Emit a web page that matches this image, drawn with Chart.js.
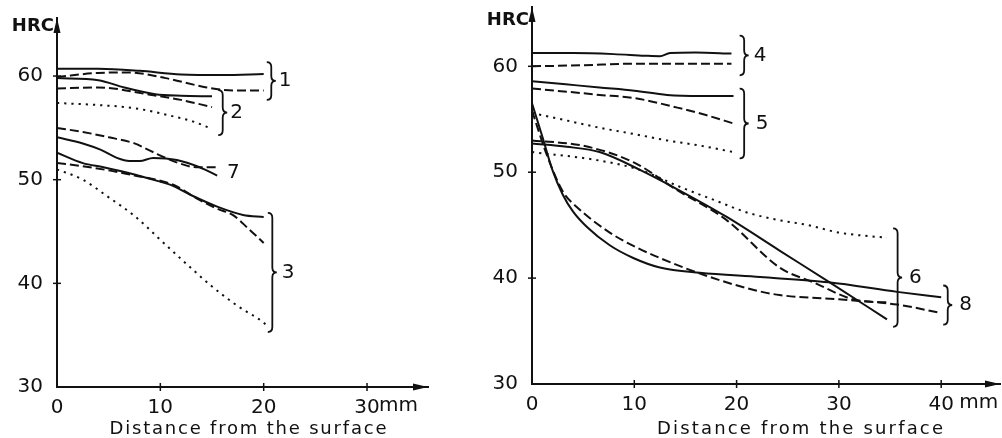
<!DOCTYPE html>
<html lang="en">
<head>
<meta charset="UTF-8">
<title>HRC vs distance from the surface</title>
<script src="https://cdn.jsdelivr.net/npm/chart.js@4"></script>
<style>
  body { margin: 0; background: #fff; }
  canvas { position: absolute; top: 0; }
  #left { left: 0; }
  #right { left: 480px; }
</style>
</head>
<body>
<canvas id="left" width="480" height="438"></canvas>
<canvas id="right" width="522" height="438"></canvas>
<script>
// ---- left plot: [distance mm, HRC] ----
const c1Solid  = [[0,60.7],[4,60.7],[8,60.5],[12,60.15],[16,60.1],[20,60.2]];
const c1Dashed = [[0,59.9],[4,60.3],[7,60.35],[10.5,59.8],[14.5,58.9],[17,58.6],[20,58.6]];
const c2Solid  = [[0,59.8],[4,59.6],[6.5,58.9],[9.5,58.25],[12,58.1],[15,58.05]];
const c2Dashed = [[0,58.8],[4,58.9],[9,58.2],[12,57.7],[15,57.0]];
const c2Dotted = [[0,57.4],[4,57.2],[7.5,56.9],[11.3,56.1],[13.2,55.6],[15,54.9]];
const c7Dashed = [[0,55.0],[2.5,54.6],[5,54.1],[7.5,53.5],[9,52.8],[11.5,51.7],[13.5,51.2],[15.5,51.2]];
const c7Solid  = [[0,54.1],[2.5,53.5],[4.2,52.9],[5.8,52.1],[7,51.8],[8,51.8],[9.3,52.1],[11.6,51.9],[13.8,51.2],[15.5,50.4]];
const c3Solid  = [[0,52.6],[2.5,51.6],[4.5,51.2],[7.5,50.5],[10,49.8],[11,49.5],[13,48.5],[15.5,47.4],[18,46.6],[20,46.4]];
const c3Dashed = [[0,51.6],[2.5,51.3],[5,50.9],[7.5,50.4],[10,49.9],[11.5,49.4],[13.5,48.2],[15.5,47.2],[17,46.6],[18.5,45.3],[20,43.9]];
const c3Dotted = [[0,51.0],[2.5,50.0],[5,48.3],[7.5,46.5],[10,44.2],[12.5,41.9],[15,39.7],[17.5,37.8],[20,36.2],[20.5,35.7]];

// ---- right plot ----
const c4Solid  = [[0,61.25],[4,61.25],[8,61.15],[11,61.0],[12.5,60.95],[13.5,61.25],[16,61.3],[19.5,61.2]];
const c4Dashed = [[0,60.0],[5,60.1],[10,60.25],[15,60.25],[19.5,60.25]];
const c5Solid  = [[0,58.6],[3.3,58.3],[6.6,58.0],[10,57.7],[13.2,57.3],[16.5,57.2],[19.7,57.2]];
const c5Dashed = [[0,57.9],[3.4,57.6],[6.6,57.3],[10,57.0],[14.2,56.1],[17,55.4],[19.7,54.6]];
const c5Dotted = [[0,55.6],[3.3,54.9],[6.6,54.2],[10,53.6],[13.2,53.0],[16.5,52.5],[19.7,51.9]];
const c6Solid  = [[0,52.7],[3.4,52.4],[6.6,51.9],[10.6,50.2],[13.8,48.6],[19,45.8],[24.2,42.6],[29.1,39.6],[34.7,36.1]];
const c6Dashed = [[0,53.0],[5,52.5],[10,50.9],[14.2,48.3],[19,45.5],[24.2,41.0],[27.5,39.6],[31.8,37.9],[35,37.7]];
const c6Dotted = [[0,51.9],[6.6,51.1],[10.6,50.2],[14.5,48.6],[18,47.3],[21,46.2],[24,45.5],[27,45.0],[30,44.3],[34.7,43.8]];
const c8Solid  = [[0,56.5],[1,53.4],[2,50.2],[3,47.9],[4,46.3],[5.4,44.8],[7.6,43.1],[9.9,41.9],[12.5,41.0],[16.4,40.5],[22.3,40.1],[29,39.6],[35.7,38.7],[40,38.2]];
const c8Dashed = [[0,55.8],[1.5,51.5],[3,48.2],[4.4,46.7],[7.6,44.3],[10,43.0],[12.5,41.9],[17.1,40.2],[21.6,38.9],[24.2,38.4],[30,38.0],[35.7,37.5],[40,36.7]];

const yLabels = [30, 40, 50, 60];
const xLabels = [0, 10, 20, 30, 40];

const DASH = [9, 4];
const DOT = [2.2, 5];
const pts = a => a.map(([x, y]) => ({ x, y }));
function line(data, dash) {
  return {
    data: pts(data), borderColor: '#111', borderWidth: 2, borderDash: dash || [],
    pointRadius: 0, tension: 0.4, cubicInterpolationMode: 'monotone', fill: false
  };
}

const FONT = 'DejaVu Sans';
Chart.defaults.font.family = FONT;
Chart.defaults.color = '#111';

function brace(ctx, x0, top, bot, mid) {
  const w = 9, h = w / 2;
  ctx.beginPath();
  ctx.moveTo(x0, top);
  ctx.quadraticCurveTo(x0 + h, top, x0 + h, top + 5);
  ctx.lineTo(x0 + h, mid - 5);
  ctx.quadraticCurveTo(x0 + h, mid, x0 + w, mid);
  ctx.quadraticCurveTo(x0 + h, mid, x0 + h, mid + 5);
  ctx.lineTo(x0 + h, bot - 5);
  ctx.quadraticCurveTo(x0 + h, bot, x0, bot);
  ctx.stroke();
}

function decor(o) {
  return {
    id: 'decor',
    afterDraw(chart) {
      const { ctx, chartArea: a, scales: { x, y } } = chart;
      ctx.save();
      ctx.strokeStyle = '#111';
      ctx.fillStyle = '#111';
      ctx.lineWidth = 1.5;
      // tick crosses
      x.ticks.forEach(t => {
        if (t.value <= 0 || t.value > x.max - 3) return;
        const px = x.getPixelForValue(t.value);
        ctx.beginPath(); ctx.moveTo(px, a.bottom - 4); ctx.lineTo(px, a.bottom + 4); ctx.stroke();
      });
      y.ticks.forEach(t => {
        if (t.value <= y.min || t.value > y.max - 3) return;
        const py = y.getPixelForValue(t.value);
        ctx.beginPath(); ctx.moveTo(a.left - 4, py); ctx.lineTo(a.left + 4, py); ctx.stroke();
      });
      // arrow heads
      ctx.beginPath();
      ctx.moveTo(a.right, a.bottom); ctx.lineTo(a.right - 15, a.bottom - 3.5); ctx.lineTo(a.right - 15, a.bottom + 3.5);
      ctx.closePath(); ctx.fill();
      ctx.beginPath();
      ctx.moveTo(a.left, a.top); ctx.lineTo(a.left - 3.5, a.top + 15); ctx.lineTo(a.left + 3.5, a.top + 15);
      ctx.closePath(); ctx.fill();
      // braces and group labels
      ctx.lineWidth = 1.8;
      ctx.font = '20px ' + FONT;
      ctx.textBaseline = 'middle';
      ctx.textAlign = 'left';
      o.braces.forEach(b => {
        const x0 = x.getPixelForValue(b.x);
        const top = y.getPixelForValue(b.top), bot = y.getPixelForValue(b.bot);
        const mid = (top + bot) / 2;
        brace(ctx, x0, top, bot, mid);
        ctx.fillText(b.text, x0 + 9 + b.gap, mid);
      });
      o.notes.forEach(n => ctx.fillText(n.text, x.getPixelForValue(n.x), y.getPixelForValue(n.y)));
      // HRC
      ctx.font = 'bold 18px ' + FONT;
      ctx.textAlign = 'right';
      ctx.fillText('HRC', a.left - 3, a.top + o.hrcDy);
      // unit after last labelled tick
      ctx.font = '20px ' + FONT;
      ctx.textAlign = 'left';
      ctx.fillText('mm', x.getPixelForValue(o.unitAt) + o.unitDx, a.bottom + 19);
      // axis title, letter spaced to the reference width
      ctx.font = '18px ' + FONT;
      const txt = 'Distance from the surface';
      ctx.letterSpacing = '0px';
      const w0 = ctx.measureText(txt).width;
      ctx.letterSpacing = ((o.titleW - w0) / (txt.length - 1)) + 'px';
      ctx.textAlign = 'left';
      ctx.fillText(txt, o.titleX - o.titleW / 2, 429);
      ctx.restore();
    }
  };
}

function makeChart(id, datasets, s) {
  return new Chart(document.getElementById(id), {
    type: 'line',
    data: { datasets },
    options: {
      responsive: false,
      animation: false,
      events: [],
      layout: { padding: { left: 0, top: s.top, right: s.right, bottom: 0 } },
      plugins: { legend: { display: false }, tooltip: { enabled: false }, title: { display: false } },
      scales: {
        x: {
          type: 'linear', min: 0, max: s.xMax,
          grid: { display: false, drawTicks: false },
          border: { display: true, color: '#111', width: 2 },
          ticks: {
            stepSize: 5, includeBounds: false, autoSkip: false, maxRotation: 0,
            padding: 9, font: { size: 20 },
            callback: v => xLabels.includes(v) ? String(v) : null
          },
          afterFit: sc => { sc.height = s.xH; sc.paddingLeft = 0; sc.paddingRight = 0; }
        },
        y: {
          type: 'linear', min: 30, max: s.yMax,
          grid: { display: false, drawTicks: false },
          border: { display: true, color: '#111', width: 2 },
          ticks: {
            stepSize: 5, includeBounds: false, autoSkip: false,
            padding: 14, font: { size: 20 },
            callback: v => yLabels.includes(v) ? String(v) : null
          },
          afterFit: sc => { sc.width = s.yW; sc.paddingTop = 0; sc.paddingBottom = 0; }
        }
      }
    },
    plugins: [decor(s)]
  });
}

makeChart('left', [
  line(c1Solid), line(c1Dashed, DASH),
  line(c2Solid), line(c2Dashed, DASH), line(c2Dotted, DOT),
  line(c7Dashed, DASH), line(c7Solid),
  line(c3Solid), line(c3Dashed, DASH), line(c3Dotted, DOT)
], {
  top: 18, right: 52, yW: 57, xH: 51, xMax: 35.9, yMax: 65.6,
  hrcDy: 8, unitAt: 30, unitDx: 12, titleX: 248, titleW: 277,
  braces: [
    { x: 20.3, top: 61.35, bot: 57.7, text: '1', gap: 3 },
    { x: 15.6, top: 58.65, bot: 54.3, text: '2', gap: 3 },
    { x: 20.4, top: 46.8, bot: 35.3, text: '3', gap: 5 }
  ],
  notes: [{ x: 16.45, y: 50.7, text: '7' }]
});

makeChart('right', [
  line(c4Solid), line(c4Dashed, DASH),
  line(c5Solid), line(c5Dashed, DASH), line(c5Dotted, DOT),
  line(c6Solid), line(c6Dashed, DASH), line(c6Dotted, DOT),
  line(c8Solid), line(c8Dashed, DASH)
], {
  top: 7, right: 2, yW: 52, xH: 54, xMax: 45.75, yMax: 65.6,
  hrcDy: 13, unitAt: 40, unitDx: 18, titleX: 320, titleW: 286,
  braces: [
    { x: 20.3, top: 62.9, bot: 59.15, text: '4', gap: 5 },
    { x: 20.3, top: 57.9, bot: 51.3, text: '5', gap: 7 },
    { x: 35.3, top: 44.7, bot: 35.4, text: '6', gap: 7 },
    { x: 40.2, top: 39.3, bot: 35.6, text: '8', gap: 7 }
  ],
  notes: []
});
</script>
</body>
</html>
